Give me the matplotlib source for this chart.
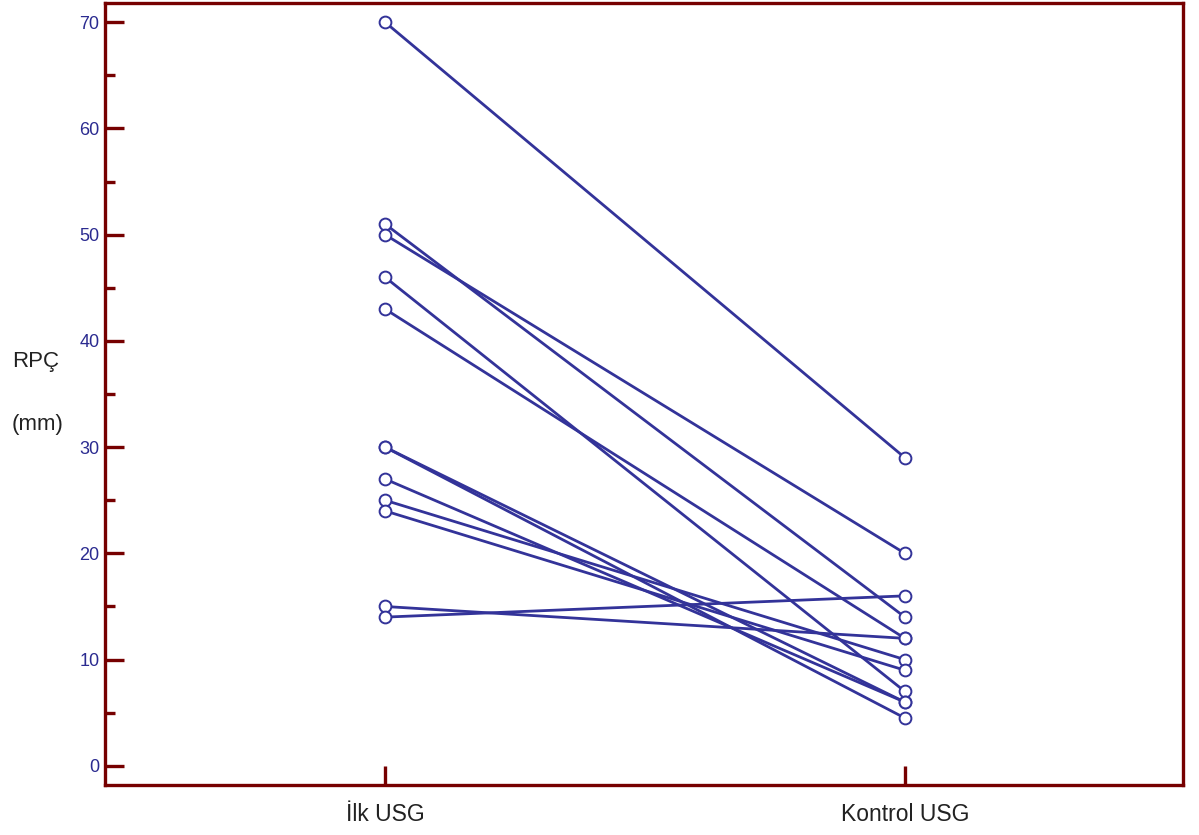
import numpy as np
import matplotlib.pyplot as plt

plt.rcParams['font.family'] = ['Liberation Sans', 'DejaVu Sans']

# RPC olcumleri (mm), her hasta icin ilk ve kontrol USG
gruplar = ['İlk USG', 'Kontrol USG']
ilk_usg = [70, 51, 50, 46, 43, 30, 30, 27, 25, 24, 15, 14]
kontrol_usg = [29, 14, 20, 7, 12, 6, 4.5, 6, 10, 9, 12, 16]

renk = '#333399'
cerceve = '#760000'

fig = plt.figure(figsize=(11.99, 8.35), dpi=100)
ax = fig.add_axes([0.0876, 0.0599, 0.8991, 0.9365])

x = np.arange(1, len(gruplar) + 1)
for a, b in zip(ilk_usg, kontrol_usg):
    ax.plot(x, [a, b], '-', color=renk, lw=2.0, zorder=2)
    ax.plot(x, [a, b], 'o', color=renk, mfc='white', mew=1.4, ms=8.5, zorder=3)

ax.set_xlim(0.4615, 2.535)
ax.set_ylim(-1.8, 71.8)
ax.set_xticks(x)
ax.set_xticklabels(gruplar, fontsize=16.5, color='#222222')
ax.set_yticks(np.arange(0, 71, 10))
ax.set_yticks(np.arange(5, 70, 10), minor=True)

ax.tick_params(axis='y', which='major', direction='in', length=14, width=2.4,
               color=cerceve, labelcolor='#2b2b90', labelsize=13, pad=4)
ax.tick_params(axis='y', which='minor', direction='in', length=7.5, width=2.4,
               color=cerceve)
ax.tick_params(axis='x', which='major', direction='in', length=14, width=2.4,
               color=cerceve, pad=13)

for s in ax.spines.values():
    s.set_color(cerceve)
    s.set_linewidth(2.4)

fig.text(0.010, 0.5665, 'RPÇ', fontsize=16, color='#222222', va='center', ha='left')
fig.text(0.010, 0.492, '(mm)', fontsize=16, color='#222222', va='center', ha='left')

plt.savefig('out.png', dpi=100)
